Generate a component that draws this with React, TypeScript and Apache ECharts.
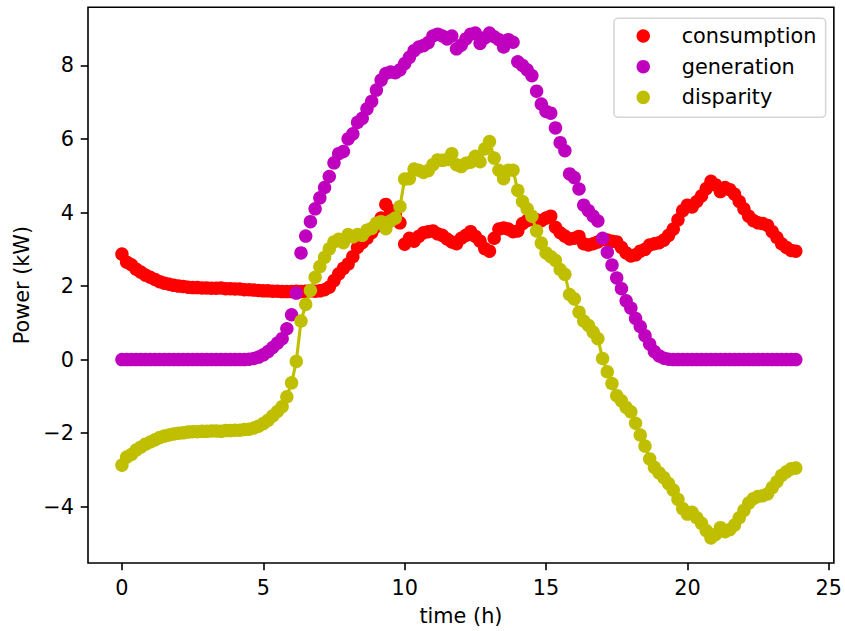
import React, { useEffect, useRef } from "react";
import * as echarts from "echarts";

// time of day in minutes (10-minute samples)
const minutes = [
  0, 10, 20, 30, 40, 50, 60, 70, 80, 90, 100, 110, 120, 130, 140, 150, 160, 170, 180, 190,
  200, 210, 220, 230, 240, 250, 260, 270, 280, 290, 300, 310, 320, 330, 340, 350, 360, 370, 380, 390,
  400, 410, 420, 430, 440, 450, 460, 470, 480, 490, 500, 510, 520, 530, 540, 550, 560, 570, 580, 590,
  600, 610, 620, 630, 640, 650, 660, 670, 680, 690, 700, 710, 720, 730, 740, 750, 760, 770, 780, 790,
  800, 810, 820, 830, 840, 850, 860, 870, 880, 890, 900, 910, 920, 930, 940, 950, 960, 970, 980, 990,
  1000, 1010, 1020, 1030, 1040, 1050, 1060, 1070, 1080, 1090, 1100, 1110, 1120, 1130, 1140, 1150, 1160, 1170, 1180, 1190,
  1200, 1210, 1220, 1230, 1240, 1250, 1260, 1270, 1280, 1290, 1300, 1310, 1320, 1330, 1340, 1350, 1360, 1370, 1380, 1390,
  1400, 1410, 1420, 1430,
];

const consumption = [
  2.87, 2.65, 2.58, 2.46, 2.38, 2.30, 2.24, 2.18, 2.12, 2.08,
  2.05, 2.02, 2.00, 1.99, 1.97, 1.96, 1.96, 1.95, 1.95, 1.94,
  1.94, 1.95, 1.93, 1.93, 1.92, 1.92, 1.90, 1.90, 1.89, 1.88,
  1.87, 1.87, 1.86, 1.86, 1.85, 1.85, 1.85, 1.86, 1.85, 1.86,
  1.87, 1.86, 1.87, 1.90, 1.97, 2.15, 2.33, 2.48, 2.60, 2.80,
  3.05, 3.18, 3.30, 3.45, 3.62, 3.85, 4.22, 4.05, 3.95, 3.72,
  3.14, 3.30, 3.22, 3.35, 3.45, 3.48, 3.50, 3.42, 3.38, 3.28,
  3.20, 3.15, 3.30, 3.38, 3.48, 3.35, 3.22, 3.02, 2.95, 3.30,
  3.55, 3.58, 3.55, 3.48, 3.50, 3.70, 3.78, 3.82, 3.80, 3.78,
  3.85, 3.90, 3.60, 3.45, 3.36, 3.28, 3.30, 3.35, 3.15, 3.12,
  3.15, 3.20, 3.27, 3.25, 3.22, 3.20, 3.05, 2.90, 2.82, 2.85,
  2.95, 3.00, 3.12, 3.15, 3.18, 3.25, 3.38, 3.55, 3.80, 4.05,
  4.20, 4.15, 4.30, 4.45, 4.65, 4.85, 4.75, 4.57, 4.68, 4.62,
  4.50, 4.30, 4.10, 3.90, 3.78, 3.72, 3.70, 3.65, 3.48, 3.32,
  3.15, 3.05, 2.97, 2.95,
];

const generation = [
  0, 0, 0, 0, 0, 0, 0, 0, 0, 0,
  0, 0, 0, 0, 0, 0, 0, 0, 0, 0,
  0, 0, 0, 0, 0, 0, 0, 0.01, 0.03, 0.07,
  0.13, 0.22, 0.33, 0.45, 0.57, 0.84, 1.22, 1.81, 2.90, 3.36,
  3.75, 4.10, 4.40, 4.68, 4.98, 5.35, 5.60, 5.66, 6.00, 6.14,
  6.45, 6.56, 6.82, 7.02, 7.33, 7.60, 7.78, 7.82, 7.80, 7.88,
  8.05, 8.22, 8.40, 8.50, 8.54, 8.62, 8.80, 8.85, 8.80, 8.72,
  8.80, 8.45, 8.55, 8.72, 8.85, 8.88, 8.60, 8.75, 8.88, 8.78,
  8.70, 8.50, 8.70, 8.63, 8.10, 8.00, 7.88, 7.72, 7.30, 6.95,
  6.75, 6.70, 6.30, 5.90, 5.68, 5.05, 4.95, 4.64, 4.20, 4.05,
  3.90, 3.77, 3.30, 2.92, 2.57, 2.22, 1.93, 1.60, 1.40, 1.12,
  0.90, 0.65, 0.42, 0.22, 0.10, 0.04, 0.01, 0, 0, 0,
  0, 0, 0, 0, 0, 0, 0, 0, 0, 0,
  0, 0, 0, 0, 0, 0, 0, 0, 0, 0,
  0, 0, 0, 0,
];

const disparity = [
  -2.87, -2.65, -2.58, -2.46, -2.38, -2.30, -2.24, -2.18, -2.12, -2.08,
  -2.05, -2.02, -2.00, -1.99, -1.97, -1.96, -1.96, -1.95, -1.95, -1.94,
  -1.94, -1.95, -1.93, -1.93, -1.92, -1.92, -1.90, -1.89, -1.86, -1.81,
  -1.74, -1.65, -1.53, -1.41, -1.28, -1.01, -0.63, -0.05, 1.05, 1.50,
  1.88, 2.24, 2.53, 2.78, 3.01, 3.20, 3.27, 3.18, 3.40, 3.34,
  3.40, 3.38, 3.52, 3.57, 3.71, 3.75, 3.56, 3.77, 3.85, 4.16,
  4.91, 4.92, 5.18, 5.15, 5.09, 5.14, 5.30, 5.43, 5.42, 5.44,
  5.60, 5.30, 5.25, 5.34, 5.37, 5.53, 5.38, 5.73, 5.93, 5.48,
  5.15, 4.92, 5.15, 5.15, 4.60, 4.30, 4.10, 3.90, 3.50, 3.17,
  2.90, 2.80, 2.70, 2.45, 2.32, 1.77, 1.65, 1.29, 1.05, 0.93,
  0.75, 0.57, 0.03, -0.33, -0.65, -0.98, -1.12, -1.30, -1.42, -1.73,
  -2.05, -2.35, -2.70, -2.93, -3.08, -3.21, -3.37, -3.55, -3.80, -4.05,
  -4.20, -4.15, -4.30, -4.45, -4.65, -4.85, -4.75, -4.57, -4.68, -4.62,
  -4.50, -4.30, -4.10, -3.90, -3.78, -3.72, -3.70, -3.65, -3.48, -3.32,
  -3.15, -3.05, -2.97, -2.95,
];

const seriesNames = ["consumption", "generation", "disparity"];
const xTicks = [0, 5, 10, 15, 20, 25];
const yTicks = [-4, -2, 0, 2, 4, 6, 8];

const FONT = "DejaVu Sans";
const FS = 20.8;

function pairs(values: number[]) {
  return minutes.map((m, i) => [m / 60, values[i]]);
}

export default function App() {
  const ref = useRef<HTMLDivElement>(null);

  useEffect(() => {
    if (!ref.current) return;
    const chart = echarts.init(ref.current, null, { renderer: "svg" });
    const axisCommon = {
      type: "value" as const,
      nameLocation: "middle" as const,
      nameTextStyle: { fontSize: FS, color: "#000", fontFamily: FONT },
      axisLine: { show: false, onZero: false },
      splitLine: { show: false },
    };
    chart.setOption({
      animation: false,
      backgroundColor: "#ffffff",
      textStyle: { fontFamily: FONT },
      grid: {
        left: 88,
        top: 7.3,
        width: 748,
        height: 557.7,
        show: true,
        borderColor: "#000",
        borderWidth: 1.6,
        backgroundColor: "transparent",
      },
      xAxis: {
        ...axisCommon,
        position: "bottom",
        min: -1.2,
        max: 25.18,
        name: "time (h)",
        nameGap: 42,
        axisTick: {
          show: true,
          inside: false,
          length: 7.3,
          customValues: xTicks,
          lineStyle: { color: "#000", width: 1.6 },
        },
        axisLabel: {
          customValues: xTicks,
          fontSize: FS,
          color: "#000",
          fontFamily: FONT,
          margin: 14,
        },
      },
      yAxis: {
        ...axisCommon,
        position: "left",
        min: -5.53,
        max: 9.58,
        name: "Power (kW)",
        nameGap: 55,
        nameRotate: 90,
        axisTick: {
          show: true,
          inside: false,
          length: 7.3,
          customValues: yTicks,
          lineStyle: { color: "#000", width: 1.6 },
        },
        axisLabel: {
          customValues: yTicks,
          fontSize: FS,
          color: "#000",
          fontFamily: FONT,
          margin: 14,
          formatter: (v: number) => (v < 0 ? "\u2212" + Math.abs(v) : String(v)),
        },
      },
      legend: {
        orient: "vertical",
        left: 614,
        top: 18.3,
        icon: "circle",
        itemWidth: 13.5,
        itemHeight: 13.5,
        itemGap: 9.65,
        padding: [7.2, 9.3, 9.5, 22.5],
        backgroundColor: "rgba(255,255,255,0.8)",
        borderColor: "#d6d6d6",
        borderWidth: 1.6,
        borderRadius: 4,
        selectedMode: false,
        data: seriesNames,
        formatter: "{a|{name}}",
        textStyle: {
          rich: {
            a: {
              fontSize: FS,
              fontFamily: FONT,
              color: "#000",
              padding: [0, 0, 0, 26.7],
              lineHeight: 21,
            },
          },
        },
      },
      series: [
        {
          name: seriesNames[0],
          type: "scatter",
          data: pairs(consumption),
          symbol: "circle",
          symbolSize: 13.5,
          itemStyle: { color: "#ff0000", opacity: 1 },
          silent: true,
        },
        {
          name: seriesNames[1],
          type: "scatter",
          data: pairs(generation),
          symbol: "circle",
          symbolSize: 13.5,
          itemStyle: { color: "#bf00bf", opacity: 1 },
          silent: true,
        },
        {
          name: seriesNames[2],
          type: "line",
          data: pairs(disparity),
          symbol: "circle",
          symbolSize: 13.5,
          showSymbol: true,
          showAllSymbol: true,
          lineStyle: { color: "#bfbf00", width: 3.1 },
          itemStyle: { color: "#bfbf00", borderWidth: 0 },
          silent: true,
        },
      ],
    });
    return () => chart.dispose();
  }, []);

  return (
    <div
      ref={ref}
      style={{ position: "absolute", left: 0, top: 0, width: 845, height: 631, background: "#fff" }}
    />
  );
}
